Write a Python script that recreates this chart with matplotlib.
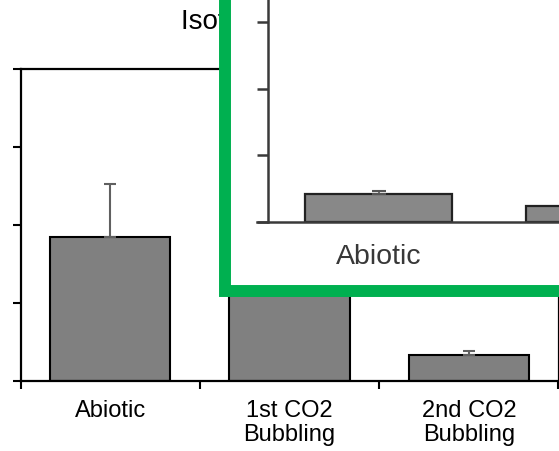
import matplotlib
matplotlib.use("Agg")
import matplotlib.pyplot as plt
from matplotlib.patches import Rectangle

plt.rcParams['font.family'] = ['Liberation Sans', 'DejaVu Sans']

# main chart
categories = ['Abiotic', '1st CO2\nBubbling', '2nd CO2\nBubbling']
values = [1.85, 1.55, 0.33]
errors = [0.67, 0.30, 0.05]
title = 'Isotope Ratio Change'

# zoomed inset (only the first label is inside the picture)
inset_categories = ['Abiotic', '']
inset_values = [0.42, 0.245]
inset_errors = [0.04, 0.03]

W, H = 559, 452
fig = plt.figure(figsize=(W / 100, H / 100), dpi=100)

def fbox(x0, y0, x1, y1):
    # pixel box (top-left origin) -> figure fraction rect
    return [x0 / W, 1 - y1 / H, (x1 - x0) / W, (y1 - y0) / H]

ax = fig.add_axes(fbox(20.5, 70, 558.5, 382))
x = range(len(categories))
ax.bar(x, values, width=0.67, color='#808080', edgecolor='black', linewidth=1.5,
       yerr=[[0] * len(errors), errors], ecolor='#606060',
       error_kw=dict(elinewidth=1.5, capsize=4.3, capthick=1.5))
ax.set_xlim(-0.5, len(categories) - 0.5)
ax.set_ylim(0, 4)
ax.set_yticks([0, 1, 2, 3, 4])
ax.set_yticklabels([])
ax.set_xticks([-0.5, 0.5, 1.5, 2.5], minor=False)
ax.set_xticklabels([])
ax.set_xticks(list(x), minor=True)
ax.set_xticklabels(categories, minor=True, fontsize=17, linespacing=1.12)
ax.tick_params(axis='x', which='minor', length=0, pad=13)
ax.tick_params(axis='x', which='major', length=6, width=1.5, direction='out')
ax.tick_params(axis='y', length=5.5, width=1.5, direction='out')
for s in ax.spines.values():
    s.set_linewidth(1.6)

fig.text(181 / W, 1 - 22 / H, title, ha='left', va='center', fontsize=20)

# green framed inset
frame = Rectangle((225 / W, 1 - 292 / H), 1.0, 1.0, transform=fig.transFigure,
                  facecolor='white', edgecolor='#00B050', linewidth=8.6,
                  zorder=10)
fig.patches.append(frame)

ax2 = fig.add_axes(fbox(268, -44, 268 + 442, 223), zorder=20)
ax2.set_facecolor('none')
xi = range(len(inset_categories))
ax2.bar(xi, inset_values, width=0.667, color='#888888', edgecolor='#222222',
        linewidth=1.6, yerr=[[0] * len(inset_errors), inset_errors],
        ecolor='#555555', error_kw=dict(elinewidth=1.2, capsize=5, capthick=1.5))
ax2.set_xlim(-0.5, 1.5)
ax2.set_ylim(0, 4)
ax2.set_yticks([0, 1, 2, 3, 4])
ax2.set_yticklabels([])
ax2.set_xticks(list(xi))
ax2.set_xticklabels(inset_categories, fontsize=20.5, color='#383838')
ax2.tick_params(axis='x', length=0, pad=15)
ax2.tick_params(axis='y', length=8, width=1.8, color='#3a3a3a', direction='out')
ax2.spines['top'].set_visible(False)
ax2.spines['right'].set_visible(False)
for s in ['left', 'bottom']:
    ax2.spines[s].set_linewidth(1.8)
    ax2.spines[s].set_color('#3a3a3a')
ax2.spines['bottom'].set_bounds(-0.5 - 11 / 221, 1.5)

fig.savefig('out.png', dpi=100)
